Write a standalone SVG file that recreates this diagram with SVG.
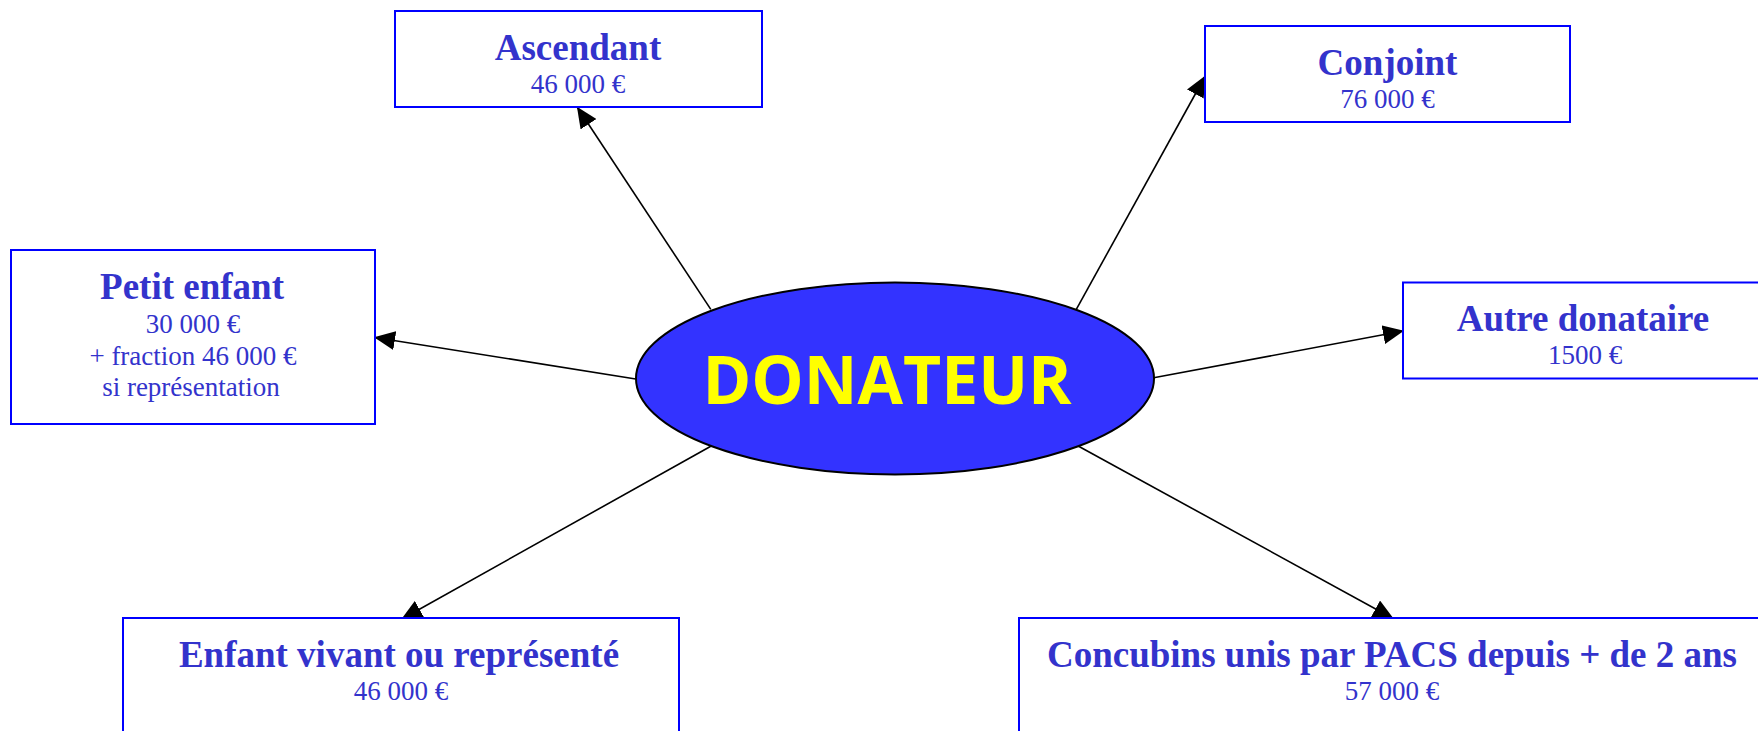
<svg xmlns="http://www.w3.org/2000/svg" width="1758" height="731" viewBox="0 0 1758 731">
<style>
.box{fill:#fff;stroke:#0000ff;stroke-width:2}
.t{font-family:"Liberation Serif","Times New Roman",serif;font-weight:bold;font-size:37px;fill:#3333cc;text-anchor:middle}
.s{font-family:"Liberation Serif","Times New Roman",serif;font-size:27px;fill:#3333cc;text-anchor:middle}
.c{stroke:#000;stroke-width:1.6;fill:none;marker-end:url(#ah)}
</style>
<defs>
<marker id="ah" markerUnits="userSpaceOnUse" markerWidth="21" markerHeight="19" viewBox="0 0 21 19" refX="20" refY="9.5" orient="auto">
<path d="M0,0 L21,9.5 L0,19 z" fill="#000"/>
</marker>
</defs>
<rect width="1758" height="731" fill="#fff"/>
<g id="connectors">
<line class="c" x1="710.8" y1="309.4" x2="577.5" y2="107.5"/>
<line class="c" x1="1076.3" y1="309.4" x2="1205" y2="76.5"/>
<line class="c" x1="635.7" y1="379" x2="375" y2="337.5"/>
<line class="c" x1="1153.7" y1="377.8" x2="1403" y2="331"/>
<line class="c" x1="710.8" y1="446.2" x2="402" y2="619"/>
<line class="c" x1="1078.6" y1="446.2" x2="1393" y2="618.5"/>
</g>
<g id="donateur">
<ellipse cx="895" cy="378.4" rx="259" ry="96" fill="#3333ff" stroke="#000" stroke-width="2"/>
<text x="887" y="404" font-family="'Open Sans','Noto Sans',sans-serif" font-weight="bold" font-size="66" fill="#ffff00" text-anchor="middle">DONATEUR</text>
</g>
<g id="ascendant">
<rect class="box" x="395" y="11" width="367" height="96"/>
<text class="t" x="578" y="60">Ascendant</text>
<text class="s" x="578" y="93">46 000 €</text>
</g>
<g id="conjoint">
<rect class="box" x="1205" y="26" width="365" height="96"/>
<text class="t" x="1387.5" y="75">Conjoint</text>
<text class="s" x="1387.5" y="108">76 000 €</text>
</g>
<g id="petit-enfant">
<rect class="box" x="11" y="250" width="364" height="174"/>
<text class="t" x="192" y="299">Petit enfant</text>
<text class="s" x="193" y="332.5">30 000 €</text>
<text class="s" x="193" y="364.5">+ fraction 46 000 €</text>
<text class="s" x="191" y="396">si représentation</text>
</g>
<g id="autre-donataire">
<rect class="box" x="1403" y="282.5" width="365" height="96"/>
<text class="t" x="1583" y="331">Autre donataire</text>
<text class="s" x="1585" y="363.5">1500 €</text>
</g>
<g id="enfant">
<rect class="box" x="123" y="618" width="556" height="174"/>
<text class="t" x="399" y="667">Enfant vivant ou représenté</text>
<text class="s" x="401" y="700">46 000 €</text>
</g>
<g id="concubins">
<rect class="box" x="1019" y="618" width="746" height="174"/>
<text class="t" x="1392" y="667">Concubins unis par PACS depuis + de 2 ans</text>
<text class="s" x="1392" y="700">57 000 €</text>
</g>
</svg>
